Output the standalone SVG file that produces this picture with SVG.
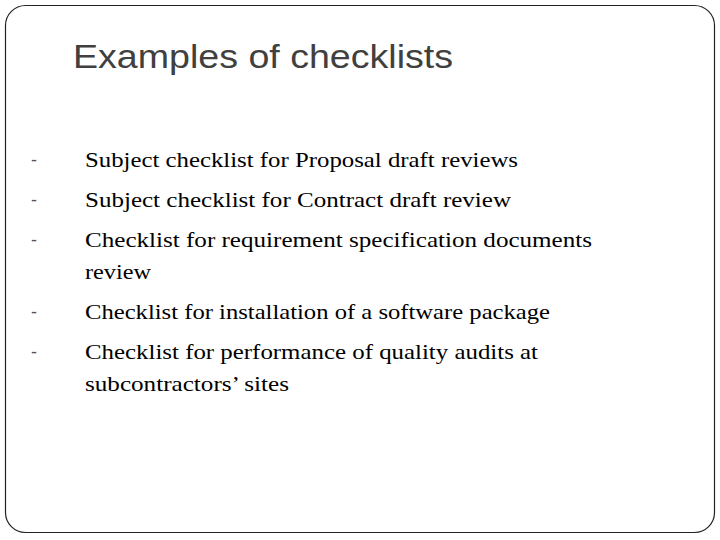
<svg xmlns="http://www.w3.org/2000/svg" width="720" height="540" viewBox="0 0 720 540">
<style>
.t{font-family:"Liberation Serif",serif;font-size:22px;fill:#000}
.d{font-family:"Liberation Sans",sans-serif;font-size:18px;fill:#555}
</style>
<rect width="720" height="540" fill="#fff"/>
<rect x="5.5" y="5.5" width="709" height="527" rx="20" fill="none" stroke="#222" stroke-width="1.2"/>
<g id="title"><text x="73" y="68" font-family="Liberation Sans,sans-serif" font-size="33" fill="#404040" textLength="380" lengthAdjust="spacingAndGlyphs">Examples of checklists</text></g>
<g id="bullets">
<text class="d" x="31" y="166">-</text><text class="t" x="85" y="167" textLength="433" lengthAdjust="spacingAndGlyphs">Subject checklist for Proposal draft reviews</text>
<text class="d" x="31" y="206">-</text><text class="t" x="85" y="207" textLength="426" lengthAdjust="spacingAndGlyphs">Subject checklist for Contract draft review</text>
<text class="d" x="31" y="246">-</text><text class="t" x="85" y="247" textLength="507" lengthAdjust="spacingAndGlyphs">Checklist for requirement specification documents</text>
<text class="t" x="85" y="279" textLength="66" lengthAdjust="spacingAndGlyphs">review</text>
<text class="d" x="31" y="318">-</text><text class="t" x="85" y="319" textLength="465" lengthAdjust="spacingAndGlyphs">Checklist for installation of a software package</text>
<text class="d" x="31" y="358">-</text><text class="t" x="85" y="359" textLength="453" lengthAdjust="spacingAndGlyphs">Checklist for performance of quality audits at</text>
<text class="t" x="85" y="391" textLength="204" lengthAdjust="spacingAndGlyphs">subcontractors’ sites</text>
</g>
</svg>
